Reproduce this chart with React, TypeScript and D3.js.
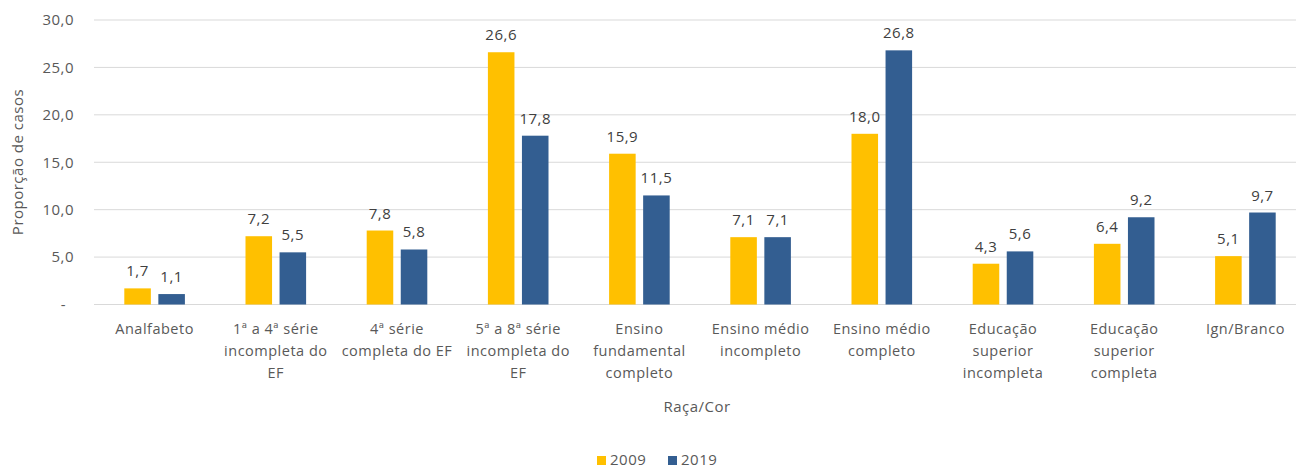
import React from "react";
import * as d3 from "d3";

const categories: string[][] = [
  ["Analfabeto"],
  ["1ª a 4ª série", "incompleta do", "EF"],
  ["4ª série", "completa do EF"],
  ["5ª a 8ª série", "incompleta do", "EF"],
  ["Ensino", "fundamental", "completo"],
  ["Ensino médio", "incompleto"],
  ["Ensino médio", "completo"],
  ["Educação", "superior", "incompleta"],
  ["Educação", "superior", "completa"],
  ["Ign/Branco"],
];
const seriesNames = ["2009", "2019"];
const values2009 = [1.7, 7.2, 7.8, 26.6, 15.9, 7.1, 18.0, 4.3, 6.4, 5.1];
const values2019 = [1.1, 5.5, 5.8, 17.8, 11.5, 7.1, 26.8, 5.6, 9.2, 9.7];
const yTicks = [0, 5, 10, 15, 20, 25, 30];
const colors = ["#FFC000", "#335E91"];

const W = 1296;
const H = 468;
const FONT = "'Open Sans', sans-serif";
const LS = 0.5;

export default function App() {
  const series = [values2009, values2019];
  const idx = categories.map((_, i) => String(i));
  const x0 = d3.scaleBand<string>().domain(idx).range([94, 1306]).paddingInner(0.5).paddingOuter(0.25);
  const x1 = d3.scaleBand<string>().domain(seriesNames).range([0, x0.bandwidth()]).paddingInner(0.22);
  const y = d3.scaleLinear().domain([0, 30]).range([304.5, 20]);
  const fmt = (v: number) => v.toFixed(1).replace(".", ",");

  return (
    <svg width={W} height={H} style={{ position: "absolute", left: 0, top: 0, background: "#fff" }} fontFamily={FONT} letterSpacing={LS}>
      {yTicks.map((t) => (
        <g key={t}>
          <line x1={94} x2={W} y1={y(t)} y2={y(t)} stroke="#D9D9D9" strokeWidth={1} />
          <text x={t === 0 ? 66 : 74} y={y(t)} dy="0.35em" textAnchor="end" fontSize={15} fill="#595959">
            {t === 0 ? "-" : fmt(t)}
          </text>
        </g>
      ))}
      {series.map((vals, s) =>
        vals.map((v, i) => {
          const x = (x0(String(i)) as number) + (x1(seriesNames[s]) as number);
          return (
            <g key={`${s}-${i}`}>
              <rect x={x} y={y(v)} width={x1.bandwidth()} height={y(0) - y(v)} fill={colors[s]} />
              <text x={x + x1.bandwidth() / 2} y={y(v) - 12} textAnchor="middle" fontSize={15} fill="#404040">
                {fmt(v)}
              </text>
            </g>
          );
        })
      )}
      {categories.map((lines, i) => (
        <text key={i} textAnchor="middle" fontSize={14.5} fill="#595959">
          {lines.map((ln, k) => (
            <tspan key={k} x={(x0(String(i)) as number) + x0.bandwidth() / 2} y={334 + k * 22}>
              {ln}
            </tspan>
          ))}
        </text>
      ))}
      <text x={(94 + 1306) / 2 - 3} y={412} textAnchor="middle" fontSize={15} fill="#595959">Raça/Cor</text>
      <text transform={`translate(23,162) rotate(-90)`} textAnchor="middle" fontSize={15} fill="#595959">
        Proporção de casos
      </text>
      {seriesNames.map((n, s) => (
        <g key={n} transform={`translate(${597 + s * 71},0)`}>
          <rect x={0} y={456} width={9} height={9} fill={colors[s]} />
          <text x={13} y={465} fontSize={15} fill="#595959">{n}</text>
        </g>
      ))}
    </svg>
  );
}
